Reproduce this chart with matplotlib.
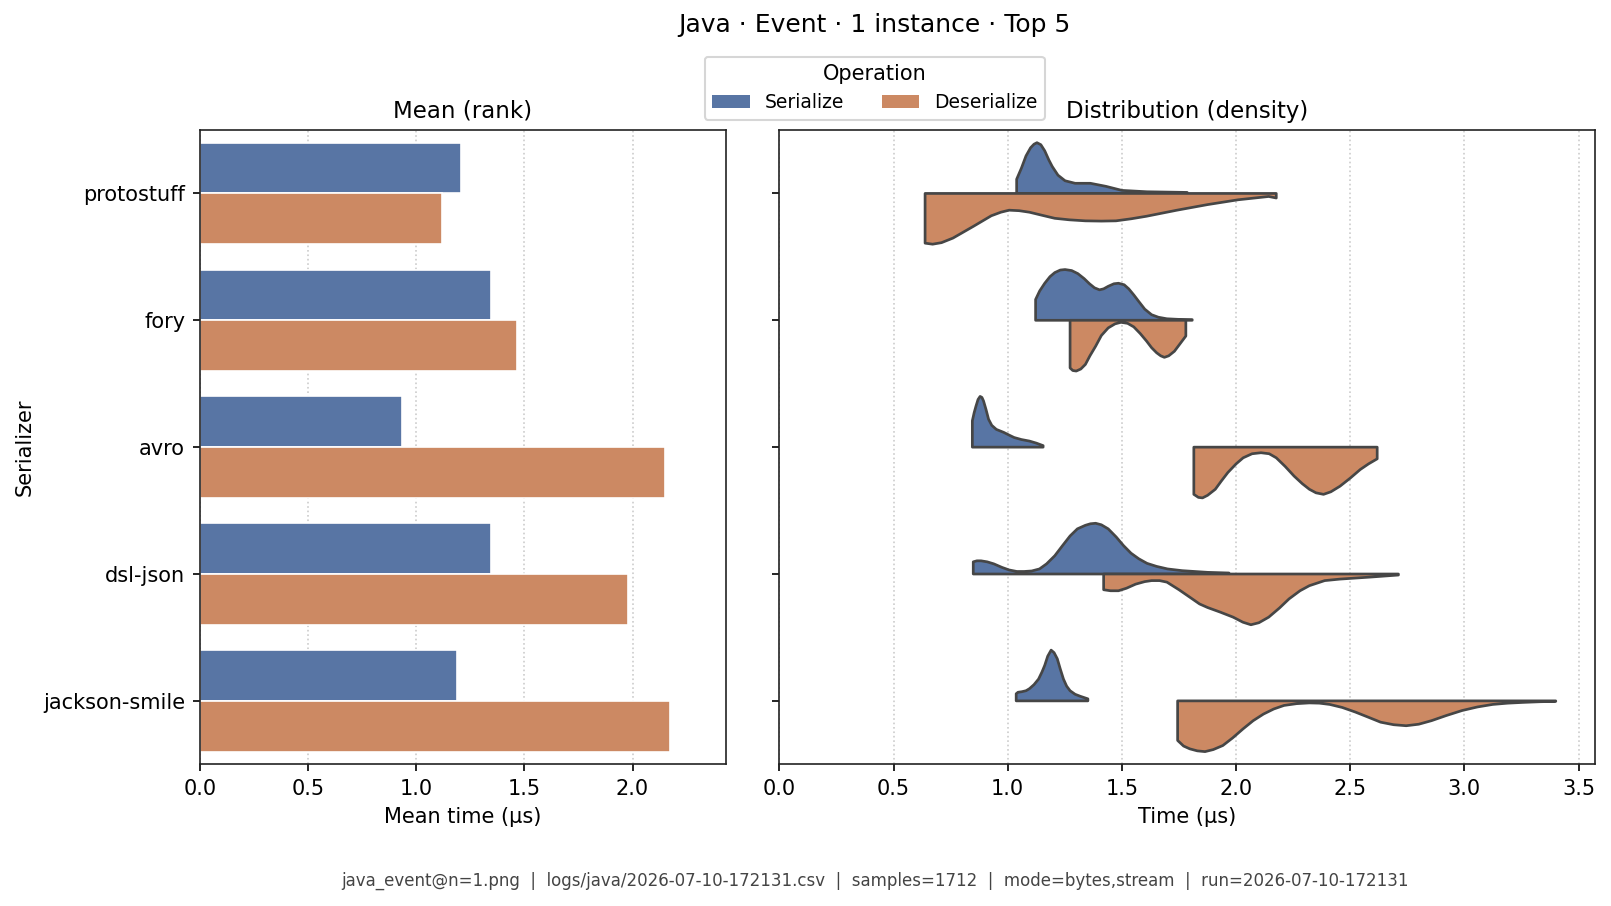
import matplotlib
matplotlib.use("Agg")
import matplotlib.pyplot as plt
from matplotlib.patches import Patch

# ---------------- data ----------------
serializers = ["protostuff", "fory", "avro", "dsl-json", "jackson-smile"]
operations = ["Serialize", "Deserialize"]
serialize_mean = [1.207, 1.346, 0.934, 1.346, 1.189]
deserialize_mean = [1.120, 1.467, 2.150, 1.980, 2.172]

# density profiles (x in µs, relative density 0..1)
protostuff_ser_x = [1.039, 1.060, 1.080, 1.100, 1.115, 1.128, 1.145, 1.162, 1.180, 1.195, 1.220, 1.251, 1.295, 1.362, 1.43, 1.50, 1.61, 1.786]
protostuff_ser_d = [0.28, 0.50, 0.74, 0.90, 0.97, 1.0, 0.96, 0.84, 0.66, 0.53, 0.36, 0.25, 0.20, 0.20, 0.14, 0.06, 0.033, 0.02]
protostuff_des_x = [0.638, 0.671, 0.710, 0.760, 0.849, 0.928, 0.970, 1.006, 1.050, 1.095, 1.150, 1.206, 1.27, 1.34, 1.41, 1.474, 1.540, 1.607, 1.741, 1.875, 2.009, 2.143, 2.176]
protostuff_des_d = [0.98, 1.0, 0.97, 0.88, 0.65, 0.44, 0.37, 0.33, 0.34, 0.37, 0.43, 0.49, 0.52, 0.54, 0.545, 0.54, 0.50, 0.45, 0.33, 0.22, 0.125, 0.06, 0.09]

fory_ser_x = [1.122, 1.140, 1.162, 1.185, 1.206, 1.230, 1.251, 1.280, 1.307, 1.335, 1.358, 1.380, 1.402, 1.420, 1.44, 1.465, 1.485, 1.510, 1.53, 1.552, 1.574, 1.60, 1.63, 1.66, 1.697, 1.750, 1.808]
fory_ser_d = [0.41, 0.58, 0.73, 0.86, 0.94, 0.99, 1.0, 0.98, 0.92, 0.82, 0.72, 0.64, 0.60, 0.62, 0.67, 0.72, 0.73, 0.70, 0.62, 0.50, 0.37, 0.22, 0.11, 0.06, 0.03, 0.018, 0.013]
fory_des_x = [1.273, 1.285, 1.30, 1.32, 1.34, 1.36, 1.385, 1.41, 1.44, 1.47, 1.496, 1.525, 1.552, 1.58, 1.608, 1.630, 1.652, 1.670, 1.686, 1.705, 1.730, 1.755, 1.78]
fory_des_d = [0.94, 0.99, 1.0, 0.96, 0.87, 0.70, 0.51, 0.30, 0.15, 0.07, 0.04, 0.06, 0.13, 0.26, 0.41, 0.54, 0.64, 0.70, 0.73, 0.70, 0.61, 0.46, 0.31]

avro_ser_x = [0.845, 0.853, 0.861, 0.870, 0.879, 0.887, 0.894, 0.905, 0.916, 0.930, 0.950, 0.983, 1.005, 1.028, 1.060, 1.095, 1.125, 1.155]
avro_ser_d = [0.52, 0.68, 0.81, 0.94, 1.0, 0.98, 0.91, 0.74, 0.55, 0.43, 0.35, 0.29, 0.24, 0.19, 0.15, 0.12, 0.08, 0.03]
avro_des_x = [1.815, 1.835, 1.853, 1.875, 1.909, 1.935, 1.964, 2.000, 2.031, 2.070, 2.109, 2.145, 2.176, 2.215, 2.254, 2.290, 2.321, 2.350, 2.383, 2.415, 2.455, 2.500, 2.544, 2.580, 2.618]
avro_des_d = [0.93, 0.99, 1.0, 0.95, 0.83, 0.67, 0.50, 0.33, 0.21, 0.13, 0.11, 0.13, 0.21, 0.38, 0.57, 0.72, 0.83, 0.90, 0.93, 0.88, 0.77, 0.61, 0.44, 0.33, 0.23]

dsljson_ser_x = [0.849, 0.865, 0.883, 0.910, 0.939, 0.975, 1.006, 1.040, 1.072, 1.105, 1.139, 1.170, 1.206, 1.240, 1.273, 1.305, 1.34, 1.362, 1.385, 1.410, 1.44, 1.475, 1.507, 1.540, 1.574, 1.610, 1.652, 1.700, 1.764, 1.875, 1.969]
dsljson_ser_d = [0.24, 0.26, 0.26, 0.24, 0.20, 0.13, 0.08, 0.05, 0.05, 0.06, 0.10, 0.20, 0.36, 0.56, 0.75, 0.89, 0.96, 0.99, 1.0, 0.97, 0.89, 0.73, 0.56, 0.41, 0.30, 0.21, 0.15, 0.10, 0.066, 0.033, 0.02]
dsljson_des_x = [1.42, 1.450, 1.485, 1.520, 1.560, 1.600, 1.63, 1.665, 1.697, 1.750, 1.808, 1.840, 1.875, 1.930, 1.987, 2.030, 2.065, 2.100, 2.143, 2.190, 2.232, 2.280, 2.321, 2.388, 2.455, 2.589, 2.711]
dsljson_des_d = [0.31, 0.33, 0.33, 0.28, 0.20, 0.15, 0.13, 0.13, 0.16, 0.31, 0.49, 0.59, 0.66, 0.75, 0.85, 0.95, 1.0, 0.96, 0.85, 0.67, 0.49, 0.33, 0.23, 0.13, 0.10, 0.06, 0.02]

jackson_ser_x = [1.037, 1.045, 1.061, 1.080, 1.095, 1.115, 1.135, 1.150, 1.162, 1.175, 1.19, 1.203, 1.217, 1.230, 1.244, 1.258, 1.273, 1.295, 1.318, 1.351]
jackson_ser_d = [0.14, 0.17, 0.18, 0.20, 0.24, 0.32, 0.43, 0.57, 0.70, 0.88, 1.0, 0.95, 0.83, 0.63, 0.43, 0.29, 0.20, 0.13, 0.09, 0.04]
jackson_des_x = [1.744, 1.770, 1.797, 1.830, 1.864, 1.900, 1.942, 1.985, 2.031, 2.075, 2.12, 2.165, 2.21, 2.265, 2.321, 2.365, 2.41, 2.465, 2.522, 2.578, 2.633, 2.690, 2.745, 2.800, 2.856, 2.920, 2.99, 3.057, 3.124, 3.190, 3.257, 3.330, 3.40]
jackson_des_d = [0.78, 0.89, 0.945, 0.985, 1.0, 0.96, 0.88, 0.73, 0.55, 0.39, 0.26, 0.16, 0.09, 0.055, 0.04, 0.045, 0.07, 0.13, 0.22, 0.32, 0.42, 0.47, 0.49, 0.46, 0.39, 0.29, 0.19, 0.12, 0.07, 0.045, 0.03, 0.017, 0.01]

ser_profiles = [(protostuff_ser_x, protostuff_ser_d), (fory_ser_x, fory_ser_d),
                (avro_ser_x, avro_ser_d), (dsljson_ser_x, dsljson_ser_d),
                (jackson_ser_x, jackson_ser_d)]
des_profiles = [(protostuff_des_x, protostuff_des_d), (fory_des_x, fory_des_d),
                (avro_des_x, avro_des_d), (dsljson_des_x, dsljson_des_d),
                (jackson_des_x, jackson_des_d)]

title = "Java · Event · 1 instance · Top 5"
footer = ("java_event@n=1.png  |  logs/java/2026-07-10-172131.csv  |  samples=1712  |  "
          "mode=bytes,stream  |  run=2026-07-10-172131")

# ---------------- style ----------------
plt.rcParams["font.family"] = ["DejaVu Sans"]
plt.rcParams["font.size"] = 10
C_SER = "#5875a4"
C_DES = "#cc8963"
EDGE = "#464646"

fig = plt.figure(figsize=(10.74, 6.04), dpi=150)
ax1 = fig.add_axes([0.1240, 0.1564, 0.3264, 0.7001])
ax2 = fig.add_axes([0.4838, 0.1564, 0.5060, 0.7001], sharey=ax1)

pos = list(range(len(serializers)))
bw = 0.4
ax1.barh([p - bw / 2 for p in pos], serialize_mean, height=bw, color=C_SER,
         edgecolor="white", linewidth=0.8, zorder=2)
ax1.barh([p + bw / 2 for p in pos], deserialize_mean, height=bw, color=C_DES,
         edgecolor="white", linewidth=0.8, zorder=2)
ax1.set_xlim(0, 2.43)
ax1.set_ylim(4.5, -0.5)
ax1.set_yticks(pos)
ax1.set_yticklabels(serializers)
ax1.set_xticks([0.0, 0.5, 1.0, 1.5, 2.0])
ax1.set_xlabel("Mean time (µs)")
ax1.set_ylabel("Serializer")
ax1.set_title("Mean (rank)", fontsize=11)

half = 0.4
for p, (xs, ds) in zip(pos, ser_profiles):
    px = [xs[0]] + list(xs) + [xs[-1]]
    py = [p] + [p - half * d for d in ds] + [p]
    ax2.fill(px, py, facecolor=C_SER, edgecolor=EDGE, linewidth=1.3, zorder=2,
             joinstyle="round")
for p, (xs, ds) in zip(pos, des_profiles):
    px = [xs[0]] + list(xs) + [xs[-1]]
    py = [p] + [p + half * d for d in ds] + [p]
    ax2.fill(px, py, facecolor=C_DES, edgecolor=EDGE, linewidth=1.3, zorder=2,
             joinstyle="round")
ax2.set_xlim(0, 3.57)
ax2.set_xticks([0.0, 0.5, 1.0, 1.5, 2.0, 2.5, 3.0, 3.5])
ax2.set_xlabel("Time (µs)")
ax2.set_title("Distribution (density)", fontsize=11)
ax2.tick_params(labelleft=False)

for ax in (ax1, ax2):
    ax.set_axisbelow(True)
    ax.grid(axis="x", linestyle=":", color="#cccccc", linewidth=0.8)
    for s in ax.spines.values():
        s.set_color("#222222")

handles = [Patch(facecolor=C_SER, label=operations[0]),
           Patch(facecolor=C_DES, label=operations[1])]
fig.legend(handles=handles, title="Operation", loc="upper center", ncol=2,
           bbox_to_anchor=(0.543, 0.9376), borderaxespad=0, fontsize=9,
           title_fontsize=10, frameon=True)

fig.text(0.543, 0.9727, title, ha="center", va="center", fontsize=12)
fig.text(0.543, 0.028, footer, ha="center", va="center", fontsize=8, color="#444444")

fig.savefig("out.png", dpi=150)
